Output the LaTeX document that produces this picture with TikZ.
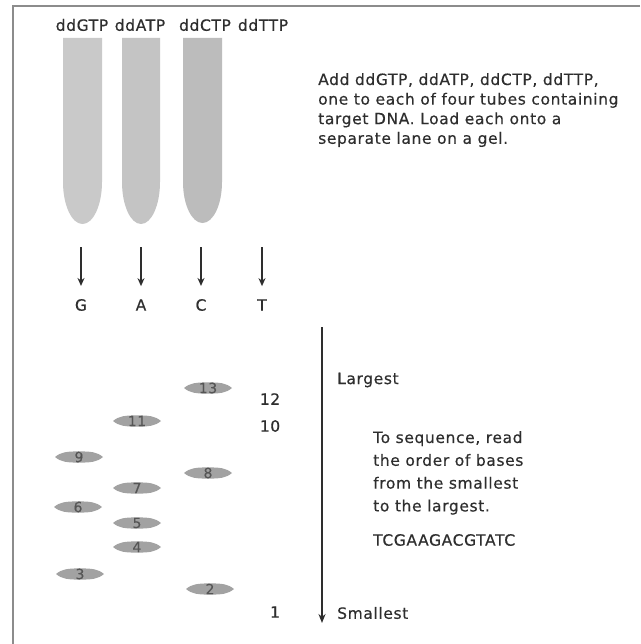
\documentclass[tikz,border=0pt]{standalone}
\usepackage{fontspec}
\setmainfont{DejaVu Sans}[LetterSpace=4, FakeBold=0.4]
\usetikzlibrary{arrows.meta}
\definecolor{ink}{HTML}{2E2E2E}
\definecolor{framegray}{HTML}{8C8C8C}
\definecolor{tubeA}{HTML}{C9C9C9}
\definecolor{tubeB}{HTML}{C4C4C4}
\definecolor{tubeC}{HTML}{BCBCBC}
\definecolor{bandgray}{HTML}{A2A2A2}
\definecolor{bandink}{HTML}{555555}
\begin{document}
\begin{tikzpicture}[x=1pt,y=-1pt,
  lbl/.style={font=\fontsize{15.5}{18}\selectfont, text=ink, inner sep=0pt},
  note/.style={font=\fontsize{15.5}{19.6}\selectfont, text=ink, align=left, inner sep=0pt, anchor=north west},
  bandnum/.style={inner sep=0pt, font=\fontsize{14}{14}\selectfont, text=bandink},
  drop/.style={-{Stealth[length=8pt,width=7pt]}, line width=2.1pt, draw=ink},
  frame/.style={draw=framegray, line width=2pt}]
\useasboundingbox (0,0) rectangle (640,644);
\fill[white] (0,0) rectangle (640,644);

% frame
\draw[frame] (640,6) -- (12.5,6) -- (12.5,644);

% reaction tubes
\fill[tubeA] (63,38) -- (63,182) arc[start angle=180, end angle=0, x radius=19.5, y radius=42] -- (102,38) -- cycle;
\fill[tubeB] (122,38) -- (122,182) arc[start angle=180, end angle=0, x radius=19, y radius=42] -- (160,38) -- cycle;
\fill[tubeC] (183,38) -- (183,182) arc[start angle=180, end angle=0, x radius=19.5, y radius=41] -- (222,38) -- cycle;

% dideoxynucleotide labels
\node[lbl] (ddG) at (82,25) {ddGTP};
\node[lbl] (ddA) at (140,25) {ddATP};
\node[lbl] (ddC) at (205,25) {ddCTP};
\node[lbl] (ddT) at (263,25) {ddTTP};

\node[note] (add) at (318,73) {Add ddGTP, ddATP, ddCTP, ddTTP,\\one to each of four tubes containing\\target DNA. Load each onto a\\separate lane on a gel.};

% lanes
\node[lbl] (G) at (81,305) {G};
\node[lbl] (A) at (141,305) {A};
\node[lbl] (C) at (201,305) {C};
\node[lbl] (T) at (262,305) {T};
\coordinate (gG) at (81,247);
\coordinate (gA) at (141,247);
\coordinate (gC) at (201,247);
\coordinate (gT) at (262,247);
\draw[drop] (gG) -- ([yshift=13pt]G.north);
\draw[drop] (gA) -- ([yshift=13pt]A.north);
\draw[drop] (gC) -- ([yshift=13pt]C.north);
\draw[drop] (gT) -- ([yshift=13pt]T.north);

% gel bands: rounded smear tapering at both ends, fragment number on top
\foreach \bx/\by/\bn in {208/388/13, 137/421/11, 79/457/9, 208/473/8, 137/488/7,
                         78/507/6, 137/523/5, 137/547/4, 80/574/3, 210/589/2} {
  \fill[bandgray] (\bx-24,\by)
      .. controls (\bx-18,\by-5) and (\bx-12,\by-5.6) .. (\bx,\by-5.6)
      .. controls (\bx+12,\by-5.6) and (\bx+18,\by-5) .. (\bx+24,\by)
      .. controls (\bx+18,\by+5) and (\bx+12,\by+5.6) .. (\bx,\by+5.6)
      .. controls (\bx-12,\by+5.6) and (\bx-18,\by+5) .. cycle;
  \node[bandnum] (b\bn) at (\bx,\by) {\bn};
}
\node[lbl] (n12) at (270,399) {12};
\node[lbl] (n10) at (270,426) {10};
\node[lbl] (n1)  at (275,612) {1};

% size axis
\coordinate (large) at (322,327);
\coordinate (small) at (322,623);
\draw[-{Stealth[length=9pt,width=7pt]}, line width=2.6pt, draw=ink] (large) -- (small);
\node[lbl, anchor=west] (lg) at (337,380) {Largest};
\node[lbl, anchor=west] (sm) at (337,613) {Smallest};

\node[note, font=\fontsize{15.5}{22.8}\selectfont] (read) at (373,431) {To sequence, read\\the order of bases\\from the smallest\\to the largest.};
\node[lbl, anchor=west] (seq) at (373,540) {TCGAAGACGTATC};
\end{tikzpicture}
\end{document}
